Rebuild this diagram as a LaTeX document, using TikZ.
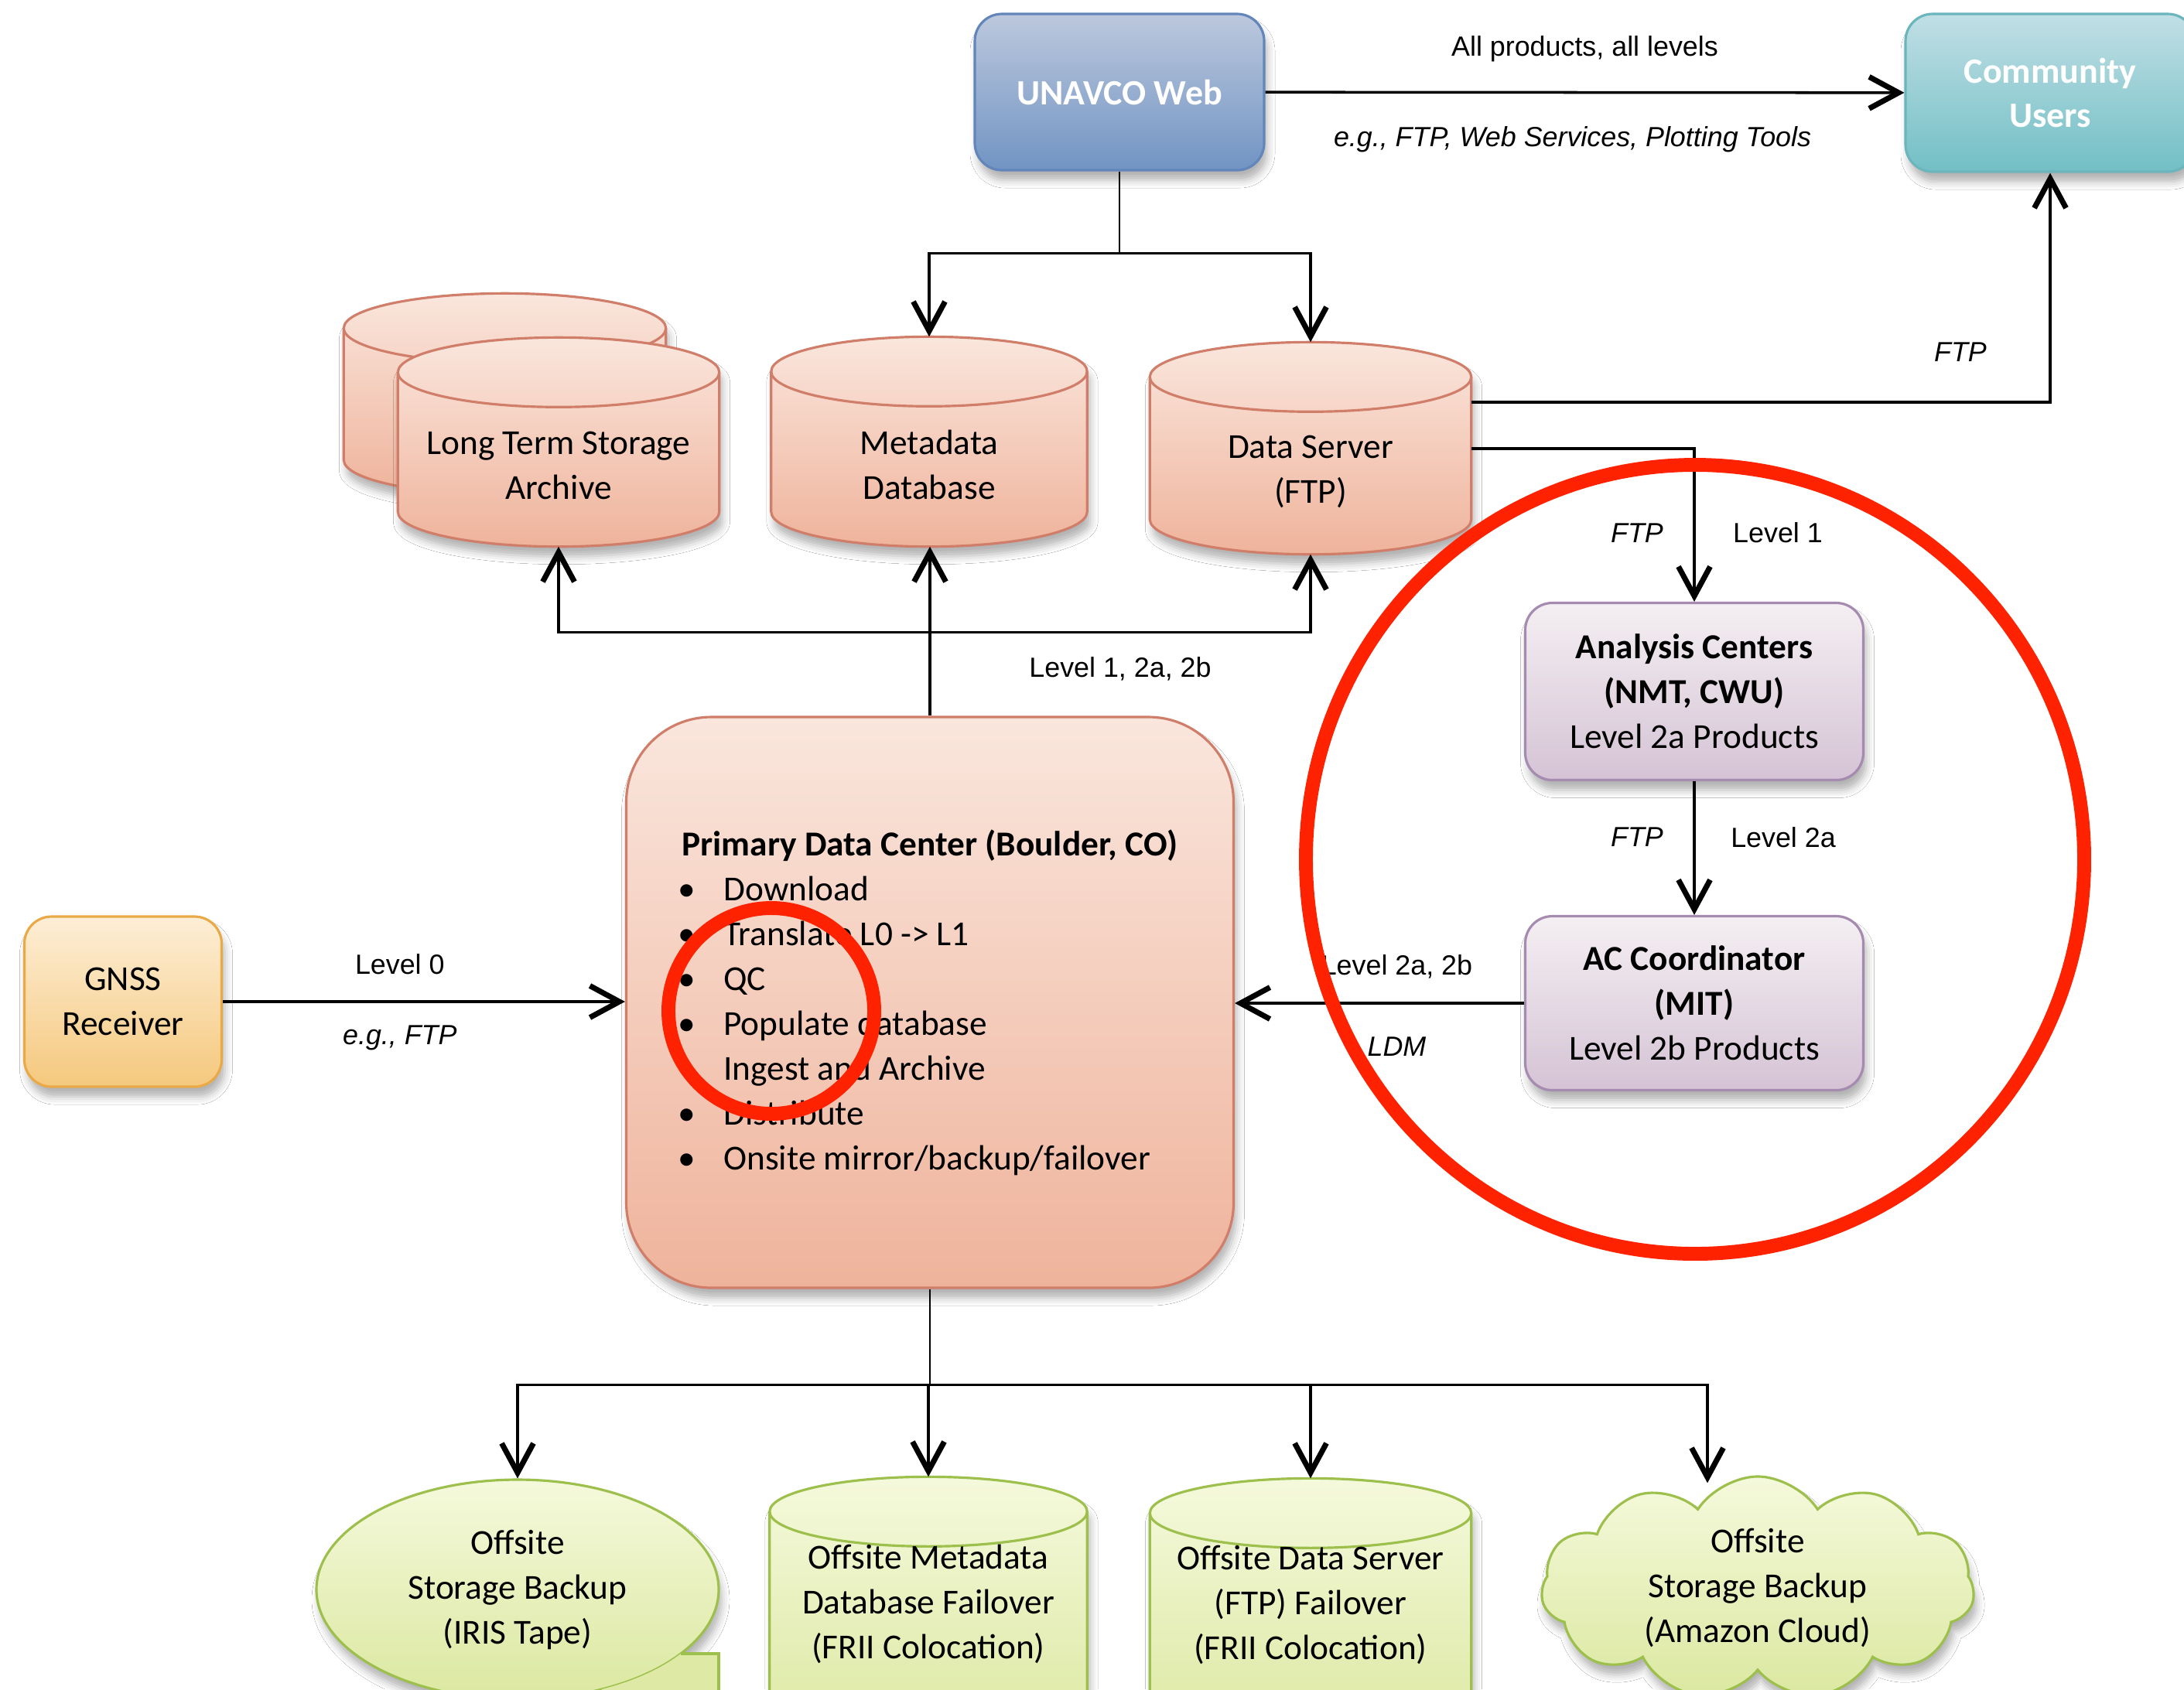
\documentclass[tikz,border=0pt]{standalone}
\usepackage{fontspec}
\setmainfont{Carlito}
\newfontfamily\arialfont{Liberation Sans}
\usetikzlibrary{positioning, calc, backgrounds, arrows.meta, shapes.geometric, shapes.symbols, shadows.blur}

\definecolor{webtop}{HTML}{BCC8DD}
\definecolor{webbot}{HTML}{7194C3}
\definecolor{webline}{HTML}{6386BA}
\definecolor{usrtop}{HTML}{C0DFE5}
\definecolor{usrbot}{HTML}{72BFC5}
\definecolor{usrline}{HTML}{6BB5BC}
\definecolor{saltop}{HTML}{FAE6DD}
\definecolor{salbot}{HTML}{EFB39B}
\definecolor{salline}{HTML}{D07E69}
\definecolor{orgtop}{HTML}{FDEED6}
\definecolor{orgbot}{HTML}{F5C87D}
\definecolor{orgline}{HTML}{EAA947}
\definecolor{purtop}{HTML}{F4EFF2}
\definecolor{purbot}{HTML}{D5C3D5}
\definecolor{purline}{HTML}{A68BB1}
\definecolor{grntop}{HTML}{F5F9DC}
\definecolor{grnbot}{HTML}{DBE8A0}
\definecolor{grnline}{HTML}{9DBF4C}
\definecolor{ringred}{HTML}{FF2200}

\newcommand{\itm}{\makebox[0.54cm][l]{\kern-0.05cm\textbullet}}

% cylinder drawn round a node: fill style, line colour, node, extra depth
\newcommand{\drum}[4]{%
  \path[#1, shad, line width=0.9pt]
    let \p1=(#3.north west), \p2=(#3.south east), \n1={(\x2-\x1)/2} in
    (\x1,{\y1+1.5mm}) -- (\x1,{\y2+4.5mm-#4})
    arc[start angle=180, end angle=360, x radius=\n1, y radius=4.5mm]
    -- (\x2,{\y1+1.5mm})
    arc[start angle=0, end angle=180, x radius=\n1, y radius=4.5mm]
    -- cycle;
  \draw[#2, line width=0.9pt]
    let \p1=(#3.north west), \p2=(#3.south east), \n1={(\x2-\x1)/2} in
    (\x1,{\y1+1.5mm}) arc[start angle=180, end angle=360, x radius=\n1, y radius=4.5mm];
}

\tikzset{
  txt/.style={font=\fontsize{12.9}{16.5}\selectfont, align=center},
  shad/.style={blur shadow={shadow xshift=0.4mm, shadow yshift=-1.3mm, shadow blur radius=1mm, shadow opacity=30}},
  box/.style={txt, shad, draw, line width=0.9pt, rounded corners=0.35cm},
  dbnode/.style={txt, inner sep=0pt},
  webfill/.style={top color=webtop, bottom color=webbot, draw=webline},
  usrfill/.style={top color=usrtop, bottom color=usrbot, draw=usrline},
  salfill/.style={top color=saltop, bottom color=salbot, draw=salline},
  orgfill/.style={top color=orgtop, bottom color=orgbot, draw=orgline},
  purfill/.style={top color=purtop, bottom color=purbot, draw=purline},
  grnfill/.style={top color=grntop, bottom color=grnbot, draw=grnline},
  arr/.style={line width=1pt, -{Straight Barb[length=3.8mm, width=4.1mm, line width=2pt]}},
  lbl/.style={font=\arialfont\fontsize{10.2}{12}\selectfont, inner sep=0pt},
  ring/.style={draw=ringred, line width=5.1pt},
}

\begin{document}
\begin{tikzpicture}
\useasboundingbox (0,0) rectangle (28.23,-21.84);
\clip (0,0) rectangle (28.23,-21.84);

% web side
\node[box, webfill, text=white, font=\fontsize{13.1}{16.5}\selectfont\bfseries, minimum width=3.74cm, minimum height=2.02cm] (web) at (14.47,-1.19) {UNAVCO Web};
\node[box, usrfill, text=white, font=\fontsize{13.1}{16.5}\selectfont\bfseries, minimum width=3.74cm, minimum height=2.04cm] (users) at (26.50,-1.20) {Community\\Users};

% storage row
\node[dbnode, minimum width=4.15cm, minimum height=1.99cm] (ltsb) at (6.525,-5.395) {};
\node[dbnode, minimum width=4.14cm, minimum height=2.09cm] (lts) at (7.22,-6.015) {Long Term Storage\\Archive};
\node[dbnode, minimum width=4.07cm, minimum height=2.10cm] (meta) at (12.01,-6.01) {Metadata\\Database};
\node[dbnode, minimum width=4.14cm, minimum height=2.13cm] (ds) at (16.94,-6.095) {Data Server\\(FTP)};

% middle row
\node[box, salfill, rounded corners=1.1cm, minimum width=7.85cm, minimum height=7.38cm, align=left] (pdc) at (12.02,-12.96) {\textbf{Primary Data Center (Boulder, CO)}\\
  \itm Download\\
  \itm Translate L0 -> L1\\
  \itm QC\\
  \itm Populate database\\
  \itm Ingest and Archive\\
  \itm Distribute\\
  \itm Onsite mirror/backup/failover};
\node[box, orgfill, minimum width=2.55cm, minimum height=2.2cm] (gnss) at (1.59,-12.95) {GNSS\\Receiver};
\node[box, purfill, minimum width=4.37cm, minimum height=2.29cm] (ac) at (21.90,-8.94) {\textbf{Analysis Centers}\\\textbf{(NMT, CWU)}\\Level 2a Products};
\node[box, purfill, minimum width=4.37cm, minimum height=2.25cm] (acc) at (21.90,-12.97) {\textbf{AC Coordinator}\\\textbf{(MIT)}\\Level 2b Products};

% offsite row
\node[txt, shad, ellipse, grnfill, line width=0.9pt, minimum width=5.2cm, minimum height=2.84cm] (iris) at (6.69,-20.55) {Offsite\\Storage Backup\\(IRIS Tape)};
\fill[grnbot!92!grntop] (9.29,-21.38) -- (9.29,-22.0) -- (7.777,-22.0) -- (7.777,-21.84)
  arc[start angle=-65.3, end angle=-35.8, x radius=2.6, y radius=1.42] -- cycle;
\draw[grnline, line width=0.9pt] (8.80,-21.38) -- (9.29,-21.38) -- (9.29,-22.0);
\node[dbnode, minimum width=4.09cm, minimum height=2.08cm] (ometa) at (12.00,-20.74) {Offsite Metadata\\Database Failover\\(FRII Colocation)};
\node[dbnode, minimum width=4.14cm, minimum height=2.06cm] (ods) at (16.94,-20.75) {Offsite Data Server\\(FTP) Failover\\(FRII Colocation)};
\node[txt, shad, cloud, cloud puffs=11, cloud puff arc=115, aspect=2, inner sep=1pt, grnfill, line width=0.9pt, minimum width=5.6cm, minimum height=2.7cm] (cloud) at (22.72,-20.53) {Offsite\\Storage Backup\\(Amazon Cloud)};

% cylinders behind their texts
\begin{scope}[on background layer]
  \fill[white] (0,0) rectangle (28.23,-21.84);
  \drum{salfill}{salline}{ltsb}{0cm}
  \drum{salfill}{salline}{lts}{0cm}
  \drum{salfill}{salline}{meta}{0cm}
  \drum{salfill}{salline}{ds}{0cm}
  \drum{grnfill}{grnline}{ometa}{8mm}
  \drum{grnfill}{grnline}{ods}{8mm}
\end{scope}

% connectors
\draw[arr] (web) -- node[lbl, yshift=0.56cm]{All products, all levels} node[lbl, yshift=-0.61cm, xshift=-0.16cm]{\textit{e.g., FTP, Web Services, Plotting Tools}} (users);
\draw (web.south) -- ++(0,-1.06) coordinate (jweb);
\draw[arr] (jweb) -| ([yshift=6mm]meta.north);
\draw[arr] (jweb) -| ([yshift=6mm]ds.north);

\draw[arr] (pdc.north) -- (pdc.north |- meta.south);
\draw (pdc.north) -- ++(0,1.08) coordinate (jpdc);
\draw[arr] (jpdc) -| (lts.south);
\draw[arr] (jpdc) -| node[lbl, pos=0.25, yshift=-0.47cm]{Level 1, 2a, 2b} (ds.south);

\draw[arr] ([yshift=0.895cm]ds.east) -| node[lbl, pos=0.61, xshift=-1.16cm]{\textit{FTP}} (users.south);
\draw[arr] ([yshift=0.295cm]ds.east) -| node[lbl, pos=0.75, xshift=-0.74cm, yshift=-0.1cm]{\textit{FTP}} node[lbl, pos=0.75, xshift=1.08cm, yshift=-0.1cm]{Level 1} (ac.north);
\draw[arr] (ac) -- node[lbl, xshift=-0.74cm, yshift=0.14cm]{\textit{FTP}} node[lbl, xshift=1.15cm, yshift=0.14cm]{Level 2a} (acc);
\draw[arr] (acc.west) -- node[lbl, pos=0.44, yshift=0.47cm]{Level 2a, 2b} node[lbl, pos=0.44, yshift=-0.56cm]{\textit{LDM}} (acc.west -| pdc.east);
\draw[arr] (gnss.east) -- node[lbl, pos=0.44, yshift=0.48cm]{Level 0} node[lbl, pos=0.44, yshift=-0.47cm]{\textit{e.g., FTP}} (gnss.east -| pdc.west);

\draw (pdc.south) -- ++(0,-1.24) coordinate (jdown);
\draw[arr] (jdown) -| (iris.north);
\draw[arr] (jdown) -| ([yshift=6mm]ometa.north);
\draw[arr] (jdown) -| ([yshift=6mm]ods.north);
\draw[arr] (jdown) -| ([xshift=-0.65cm, yshift=-0.1cm]cloud.north);

% highlight rings
\draw[ring] (21.91,-11.11) ellipse [x radius=5.03cm, y radius=5.1cm];
\draw[ring] (9.97,-13.07) circle [radius=1.33cm];
\end{tikzpicture}
\end{document}
